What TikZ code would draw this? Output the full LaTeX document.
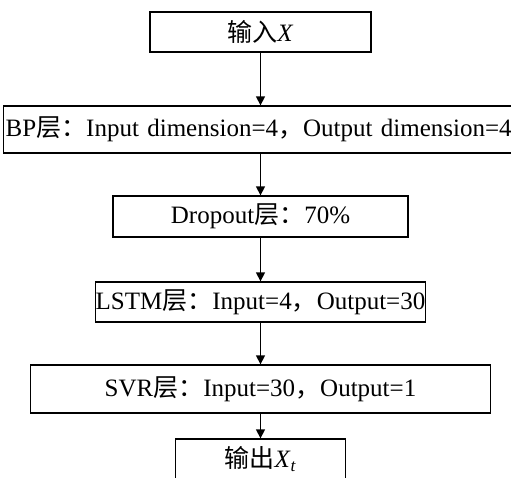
\documentclass[tikz,border=0pt]{standalone}
\usepackage{fontspec}
\setmainfont{Liberation Serif}
\newfontfamily\cjk{Noto Sans CJK SC}
\usetikzlibrary{arrows.meta}
\tikzset{
  layerbox/.style={draw=black, line width=1.3pt, rectangle, inner sep=0pt,
    font=\fontsize{25}{30}\selectfont},
  flow/.style={draw=black, line width=1.3pt, -{Triangle[length=9pt,width=9pt]}}
}
\begin{document}
\begin{tikzpicture}[x=1pt,y=-1pt]
\useasboundingbox (0,0) rectangle (511,477);
\clip (0,0) rectangle (511,477);
\node[layerbox, minimum width=221pt, minimum height=40pt] (in) at (260.5,32) {{\cjk 输入}\textit{X}};
\node[layerbox, anchor=west, minimum width=516pt, minimum height=47pt, text width=512pt, inner xsep=2pt, align=left] (bp) at (3,129.5) {BP{\cjk 层：}Input dimension=4{\cjk ，}Output dimension=4};
\node[layerbox, minimum width=295pt, minimum height=41pt] (drop) at (260.5,216.5) {Dropout{\cjk 层：}70\%};
\node[layerbox, minimum width=329pt, minimum height=40pt] (lstm) at (260.5,302) {LSTM{\cjk 层：}Input=4{\cjk ，}Output=30};
\node[layerbox, minimum width=460pt, minimum height=48pt] (svr) at (260.5,389) {SVR{\cjk 层：}Input=30{\cjk ，}Output=1};
\node[layerbox, minimum width=170pt, minimum height=40pt] (out) at (260.5,459) {{\cjk 输出}\textit{X}\textsubscript{\textit{t}}};
\draw[flow] (in.south) -- (in.south |- bp.north);
\draw[flow] (in.south |- bp.south) -- (drop.north);
\draw[flow] (drop.south) -- (lstm.north);
\draw[flow] (lstm.south) -- (svr.north);
\draw[flow] (svr.south) -- (out.north);
\end{tikzpicture}
\end{document}
